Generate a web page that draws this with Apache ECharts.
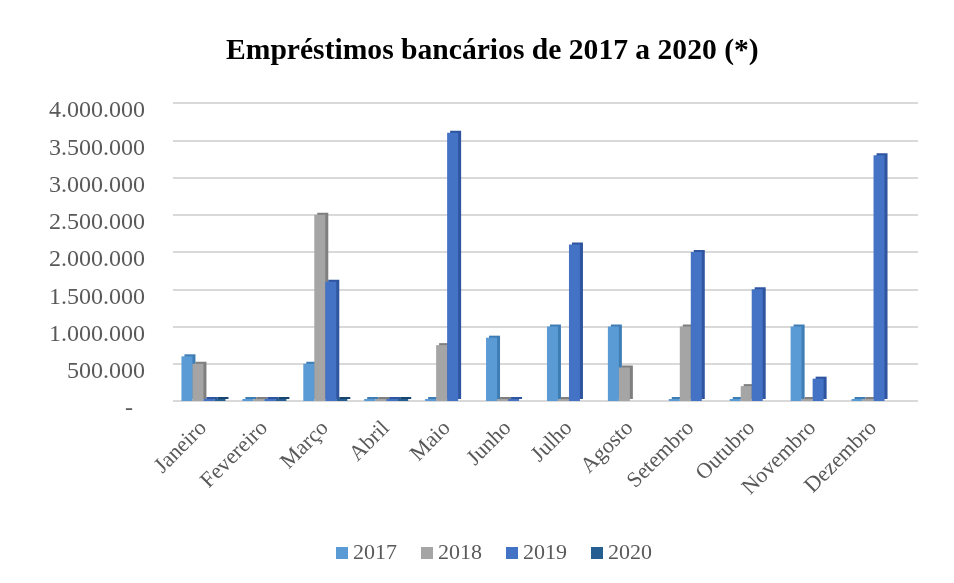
<!DOCTYPE html>
<html>
<head>
<meta charset="utf-8">
<script src="https://cdn.jsdelivr.net/npm/echarts@6/dist/echarts.min.js"></script>
<style>
  html, body { margin: 0; padding: 0; background: #fff; }
  #main { width: 954px; height: 583px; }
</style>
</head>
<body>
<div id="main"></div>
<script>
var months = ['Janeiro', 'Fevereiro', 'Março', 'Abril', 'Maio', 'Junho',
              'Julho', 'Agosto', 'Setembro', 'Outubro', 'Novembro', 'Dezembro'];
var y2017 = [600000, 0, 500000, 0, 0, 850000, 1000000, 1000000, 0, 0, 1000000, 0];
var y2018 = [500000, 0, 2500000, 0, 750000, 0, 0, 450000, 1000000, 200000, 0, 0];
var y2019 = [0, 0, 1600000, 0, 3600000, 0, 2100000, null, 2000000, 1500000, 300000, 3300000];
var y2020 = [0, 0, 0, 0, null, null, null, null, null, null, null, null];

var years = ['2017', '2018', '2019', '2020'];
var colors = ['#5B9BD5', '#A5A5A5', '#4472C4', '#255E91'];
var sideColors = ['#3F7DB5', '#7F7F7F', '#2F55A0', '#17456E'];
var allData = [y2017, y2018, y2019, y2020];

var serif = '"Liberation Serif", "DejaVu Serif", serif';

function fmt(v) {
    if (v === 0) return '-\u00a0\u00a0';
    return String(v).replace(/\B(?=(\d{3})+(?!\d))/g, '.');
}

var series = [];
for (var i = 0; i < years.length; i++) {
    series.push({
        name: years[i],
        type: 'bar',
        data: allData[i],
        barWidth: 11,
        barGap: '0%',
        barMinHeight: 2,
        z: 3,
        itemStyle: {
            color: colors[i],
            shadowColor: sideColors[i],
            shadowBlur: 0,
            shadowOffsetX: 3,
            shadowOffsetY: -2
        }
    });
}

var chart = echarts.init(document.getElementById('main'));
chart.setOption({
    backgroundColor: '#fff',
    color: colors,
    title: {
        text: 'Empréstimos bancários de 2017 a 2020 (*)',
        left: 221,
        top: 31,
        textStyle: { fontFamily: serif, fontSize: 29.6, fontWeight: 'bold', color: '#000' }
    },
    legend: {
        bottom: 14,
        left: 331,
        itemWidth: 12,
        itemHeight: 12,
        itemGap: 24,
        icon: 'rect',
        textStyle: { fontFamily: serif, fontSize: 22, color: '#595959' },
        data: years
    },
    grid: [
        { left: 173, right: 50, top: 103, bottom: 182 },
        // wider back wall for the gridlines
        { left: 173, right: 36, top: 103, bottom: 182 }
    ],
    xAxis: [{
        type: 'category',
        data: months,
        axisLine: { show: false },
        axisTick: { show: false },
        axisLabel: {
            rotate: 45,
            margin: 24,
            fontFamily: serif,
            fontSize: 22,
            color: '#595959'
        }
    }, {
        type: 'value',
        gridIndex: 1,
        min: 0,
        max: 1,
        show: false
    }],
    yAxis: [{
        type: 'value',
        min: 0,
        max: 4000000,
        interval: 500000,
        axisLine: { show: false },
        axisTick: { show: false },
        splitLine: { show: false },
        axisLabel: {
            formatter: fmt,
            margin: 28,
            verticalAlign: 'top',
            lineHeight: 16,
            fontFamily: serif,
            fontSize: 24,
            color: '#595959'
        }
    }, {
        type: 'value',
        gridIndex: 1,
        min: 0,
        max: 4000000,
        interval: 500000,
        axisLine: { show: false },
        axisTick: { show: false },
        axisLabel: { show: false },
        splitLine: { lineStyle: { color: '#D9D9D9', width: 2 } }
    }],
    series: series
});
</script>
</body>
</html>
